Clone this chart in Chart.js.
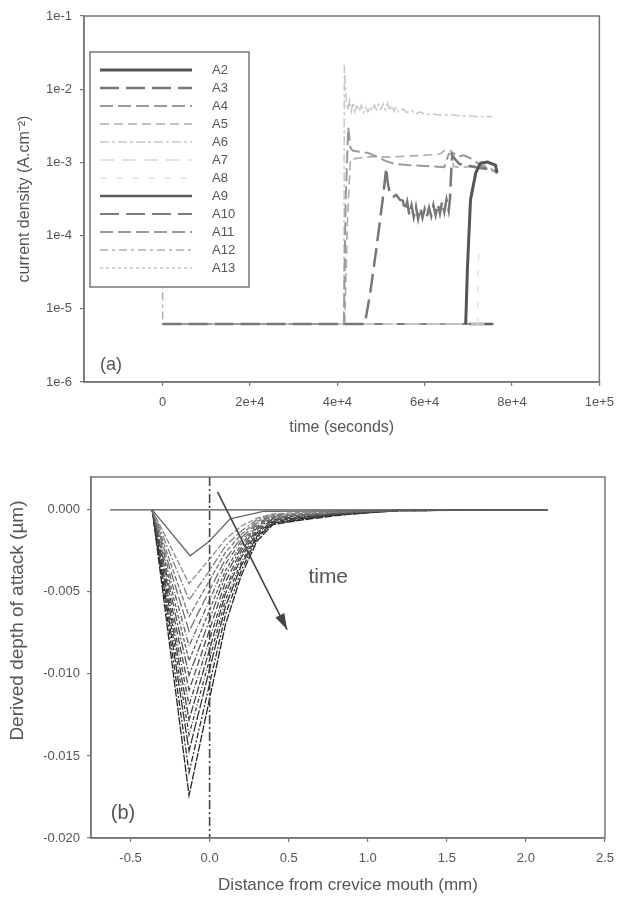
<!DOCTYPE html>
<html>
<head>
<meta charset="utf-8">
<script src="https://cdn.jsdelivr.net/npm/chart.js@4"></script>
<style>
  html, body { margin: 0; padding: 0; background: #fff; }
  #wrap { position: relative; width: 623px; height: 902px; }
  canvas { position: absolute; left: 0; }
  #chartA { top: 0; }
  #chartB { top: 445px; }
</style>
</head>
<body>
<div id="wrap">
  <canvas id="chartA" width="623" height="445"></canvas>
  <canvas id="chartB" width="623" height="457"></canvas>
</div>
<script>
// ---------- panel (a): current density vs time ----------
const b = 6.2e-6; // passive baseline

const timeA2 = [69400, 69800, 70500, 71700, 72800, 74400, 76200, 76600];
const densA2 = [b, 3.7e-5, 3.1e-4, 7.2e-4, 9.8e-4, 1.01e-3, 9.2e-4, 7.2e-4];

const timeA3 = [0, 46300, 47500, 49000, 50500, 51200, 51500, 52000, 52800, 53500, 54300,
  55000, 55500, 56000, 56500, 57000, 57500, 58000, 58500, 59000, 59500, 60000,
  60500, 61000, 61500, 62000, 62500, 63000, 63500, 64000, 64500, 65000, 65500,
  65800, 66000, 66300, 67000, 68000, 70000, 72000, 74000, 76000];
const densA3 = [b, b, 1.6e-5, 7e-5, 3.5e-4, 8.4e-4, 5.5e-4, 3.8e-4, 3.4e-4, 3.6e-4, 3.1e-4,
  3.0e-4, 2.2e-4, 2.9e-4, 1.9e-4, 2.6e-4, 1.8e-4, 2.5e-4, 1.7e-4, 2.4e-4, 1.75e-4, 2.3e-4,
  1.8e-4, 2.4e-4, 1.85e-4, 2.6e-4, 1.9e-4, 2.7e-4, 2.0e-4, 2.9e-4, 2.1e-4, 3.1e-4, 2.2e-4,
  3.2e-4, 6e-4, 1.25e-3, 1.1e-3, 9.5e-4, 9e-4, 8.5e-4, 8.2e-4, 7.6e-4];

const timeA4 = [0, 41500, 41900, 42500, 43000, 43500, 45000, 47000, 49000, 51000, 53000, 56000,
  59000, 62000, 64500, 65500, 66500, 67500, 69000, 71000, 73000, 75000, 76500];
const densA4 = [b, b, 3e-4, 3.0e-3, 1.6e-3, 1.45e-3, 1.4e-3, 1.35e-3, 1.2e-3, 1.05e-3, 9.6e-4, 9.2e-4,
  9.0e-4, 8.8e-4, 8.6e-4, 1.3e-3, 1.35e-3, 1.2e-3, 1.25e-3, 1.1e-3, 9e-4, 8e-4, 7.4e-4];

const timeA5 = [0, 41700, 42300, 43000, 45000, 48000, 52000, 56000, 60000, 63500, 64500, 65500,
  66300, 66600, 68500, 70500, 73000, 75000, 76800];
const densA5 = [b, b, 1.5e-4, 1.1e-3, 1.15e-3, 1.2e-3, 1.18e-3, 1.22e-3, 1.25e-3, 1.3e-3, 1.45e-3, 1.5e-3,
  1.4e-3, 8.8e-4, 8.5e-4, 8.8e-4, 9.5e-4, 8.5e-4, 6.8e-4];

const timeA6 = [0, 41500, 41600, 42000, 42400, 42800, 43200, 43600, 44000,
  44500, 45000, 45500, 46000, 46500, 47000, 47500, 48000, 48500, 49000,
  49500, 50000, 50500, 51000, 51500, 52000, 52500, 53000, 53500, 54000,
  55000, 56000, 57000, 58000, 59000, 60000,
  62000, 64000, 66000, 68000, 70000, 72000, 74000, 75500];
const densA6 = [b, b, 0.0214, 7.5e-3, 5.2e-3, 7.0e-3, 5.0e-3, 6.6e-3, 4.9e-3,
  6.2e-3, 5.0e-3, 6.0e-3, 4.8e-3, 5.6e-3, 4.9e-3, 5.8e-3, 5.1e-3, 6.0e-3, 5.2e-3,
  6.2e-3, 5.3e-3, 6.3e-3, 5.2e-3, 6.4e-3, 5.1e-3, 6.0e-3, 5.0e-3, 5.7e-3, 4.9e-3,
  5.4e-3, 4.8e-3, 5.1e-3, 4.6e-3, 4.9e-3, 4.5e-3,
  4.6e-3, 4.4e-3, 4.5e-3, 4.3e-3, 4.35e-3, 4.2e-3, 4.25e-3, 4.2e-3];

const timeA7 = [0, 75700];
const densA7 = [b, b];
const timeA8 = [72100, 72250, 72400];
const densA8 = [b, 4e-5, 6.3e-5];
const timeA9 = [70200, 75700];
const densA9 = [b, b];
const timeA10 = [0, 75700];
const densA10 = [b, b];
const timeA11 = [0, 75700];
const densA11 = [b, b];
const timeA12 = [0, 0, 75700];
const densA12 = [1e-4, b, b];
const timeA13 = [0, 72000];
const densA13 = [b, b];

const timeTicks = [0, 20000, 40000, 60000, 80000, 100000];
const timeTickLabels = ['0', '2e+4', '4e+4', '6e+4', '8e+4', '1e+5'];
const densTicks = [1e-6, 1e-5, 1e-4, 1e-3, 1e-2, 1e-1];
const densTickLabels = ['1e-6', '1e-5', '1e-4', '1e-3', '1e-2', '1e-1'];

// ---------- panel (b): derived depth of attack vs distance ----------
const distMm = [-0.363, -0.13, 0.0, 0.1, 0.2, 0.3, 0.4, 0.6, 0.8, 1.0, 1.2, 2.14];
const depth01 = [0, -0.0045, -0.0030, -0.0018, -0.0010, -0.0005, -0.00025, -0.00015, -0.0001, -0.00005, -0.00002, 0];
const depth02 = [0, -0.0055, -0.0037, -0.0022, -0.0013, -0.0006, -0.0003, -0.0002, -0.00012, -0.00006, -0.00002, 0];
const depth03 = [0, -0.0065, -0.0043, -0.0026, -0.0015, -0.0007, -0.00035, -0.00024, -0.00014, -0.00007, -0.00002, 0];
const depth04 = [0, -0.0074, -0.0049, -0.0030, -0.0017, -0.0008, -0.0004, -0.00027, -0.00016, -0.00008, -0.00003, 0];
const depth05 = [0, -0.0083, -0.0055, -0.0033, -0.0019, -0.0009, -0.00045, -0.0003, -0.00018, -0.00009, -0.00003, 0];
const depth06 = [0, -0.0092, -0.0061, -0.0037, -0.0021, -0.0010, -0.0005, -0.00033, -0.0002, -0.0001, -0.00003, 0];
const depth07 = [0, -0.0101, -0.0067, -0.0040, -0.0023, -0.0011, -0.00055, -0.00036, -0.00021, -0.00011, -0.00003, 0];
const depth08 = [0, -0.0110, -0.0073, -0.0044, -0.0025, -0.0012, -0.0006, -0.0004, -0.00023, -0.00012, -0.00004, 0];
const depth09 = [0, -0.0119, -0.0079, -0.0048, -0.0027, -0.0013, -0.00065, -0.00042, -0.00025, -0.00013, -0.00004, 0];
const depth10 = [0, -0.0128, -0.0085, -0.0051, -0.0029, -0.0014, -0.0007, -0.00045, -0.00027, -0.00014, -0.00004, 0];
const depth11 = [0, -0.0137, -0.0091, -0.0055, -0.0032, -0.0015, -0.00075, -0.00048, -0.00029, -0.00015, -0.00004, 0];
const depth12 = [0, -0.0147, -0.0097, -0.0059, -0.0034, -0.0016, -0.0008, -0.00052, -0.0003, -0.00016, -0.00005, 0];
const depth13 = [0, -0.0160, -0.0106, -0.0064, -0.0037, -0.0017, -0.00085, -0.00056, -0.00032, -0.00017, -0.00005, 0];
const depth14 = [0, -0.0174, -0.0115, -0.0070, -0.0040, -0.0019, -0.0009, -0.0006, -0.00035, -0.00018, -0.00005, 0];

const distShallow = [-0.363, -0.123, 0.0, 0.13, 0.34, 2.14];
const depthShallow = [0, -0.0028, -0.0019, -0.00055, -0.0001, 0];
const distInitial = [-0.63, 2.14];
const depthInitial = [0, 0];

const mouthX = [0, 0];
const mouthY = [0.002, -0.02];
const arrowX = [0.05, 0.49];
const arrowY = [0.0011, -0.0073];

const distTicks = [-0.5, 0, 0.5, 1, 1.5, 2, 2.5];
const distTickLabels = ['-0.5', '0.0', '0.5', '1.0', '1.5', '2.0', '2.5'];
const depthTicks = [0, -0.005, -0.01, -0.015, -0.02];
const depthTickLabels = ['0.000', '-0.005', '-0.010', '-0.015', '-0.020'];

// ---------- styling ----------
Chart.defaults.font.family = '"Liberation Sans", Arial, sans-serif';
Chart.defaults.color = '#555';

const styleA = {
  A2:  { color: '#555', width: 3,   dash: [] },
  A3:  { color: '#777', width: 2.5, dash: [19, 7] },
  A4:  { color: '#999', width: 2,   dash: [13, 5] },
  A5:  { color: '#aaa', width: 1.6, dash: [9, 5] },
  A6:  { color: '#c8c8c8', width: 1.5, dash: [9, 3, 3, 3] },
  A7:  { color: '#dadada', width: 1.5, dash: [14, 8] },
  A8:  { color: '#e2e2e2', width: 1.5, dash: [6, 10] },
  A9:  { color: '#5a5a5a', width: 2.5, dash: [] },
  A10: { color: '#7c7c7c', width: 2.2, dash: [19, 7] },
  A11: { color: '#9a9a9a', width: 1.8, dash: [13, 5] },
  A12: { color: '#b0b0b0', width: 1.5, dash: [8, 4, 3, 4] },
  A13: { color: '#c4c4c4', width: 1.5, dash: [3, 3] }
};

function pts(xs, ys) {
  return xs.map((x, i) => ({ x: x, y: ys[i] }));
}

function lineSet(label, xs, ys, color, width, dash) {
  return { label: label, data: pts(xs, ys), borderColor: color, borderWidth: width,
    borderDash: dash, pointRadius: 0, tension: 0, fill: false };
}

const seriesA = [
  ['A2', timeA2, densA2], ['A3', timeA3, densA3], ['A4', timeA4, densA4],
  ['A5', timeA5, densA5], ['A6', timeA6, densA6], ['A7', timeA7, densA7],
  ['A8', timeA8, densA8], ['A9', timeA9, densA9], ['A10', timeA10, densA10],
  ['A11', timeA11, densA11], ['A12', timeA12, densA12], ['A13', timeA13, densA13]
];

// full box round the plot
const framePlugin = {
  id: 'frame',
  afterDatasetsDraw(chart) {
    const { ctx, chartArea: a } = chart;
    ctx.save();
    ctx.strokeStyle = '#777';
    ctx.lineWidth = 1.5;
    ctx.strokeRect(a.left, a.top, a.right - a.left, a.bottom - a.top);
    ctx.restore();
  }
};

const panelLabel = {
  id: 'panelLabel',
  afterDraw(chart, args, opts) {
    const { ctx, chartArea: a } = chart;
    ctx.save();
    ctx.font = opts.size + 'px "Liberation Sans", Arial, sans-serif';
    ctx.fillStyle = '#555';
    ctx.textAlign = 'center';
    ctx.textBaseline = 'middle';
    ctx.fillText(opts.text, a.left + opts.dx, a.bottom + opts.dy);
    ctx.restore();
  }
};

// boxed legend in the upper-left corner of panel (a)
const boxLegend = {
  id: 'boxLegend',
  afterDatasetsDraw(chart) {
    const { ctx, chartArea: a } = chart;
    const x0 = a.left + 6, y0 = a.top + 36, w = 159, h = 235;
    ctx.save();
    ctx.fillStyle = '#fff';
    ctx.fillRect(x0, y0, w, h);
    ctx.strokeStyle = '#777';
    ctx.lineWidth = 1.5;
    ctx.strokeRect(x0, y0, w, h);
    ctx.font = '13px "Liberation Sans", Arial, sans-serif';
    ctx.textBaseline = 'middle';
    chart.data.datasets.forEach((ds, i) => {
      const y = y0 + 18 + i * 18;
      ctx.beginPath();
      ctx.setLineDash(ds.borderDash);
      ctx.strokeStyle = ds.borderColor;
      ctx.lineWidth = ds.borderWidth;
      ctx.moveTo(x0 + 10, y);
      ctx.lineTo(x0 + 102, y);
      ctx.stroke();
      ctx.setLineDash([]);
      ctx.fillStyle = '#555';
      ctx.fillText(ds.label, x0 + 122, y);
    });
    ctx.restore();
  }
};

// arrow head + "time" note in panel (b)
const timeArrow = {
  id: 'timeArrow',
  afterDatasetsDraw(chart) {
    const { ctx, scales: { x, y } } = chart;
    const x1 = x.getPixelForValue(arrowX[0]), y1 = y.getPixelForValue(arrowY[0]);
    const x2 = x.getPixelForValue(arrowX[1]), y2 = y.getPixelForValue(arrowY[1]);
    const ang = Math.atan2(y2 - y1, x2 - x1);
    const len = 16, half = 5;
    ctx.save();
    ctx.fillStyle = '#444';
    ctx.beginPath();
    ctx.moveTo(x2, y2);
    ctx.lineTo(x2 - len * Math.cos(ang) + half * Math.sin(ang), y2 - len * Math.sin(ang) - half * Math.cos(ang));
    ctx.lineTo(x2 - len * Math.cos(ang) - half * Math.sin(ang), y2 - len * Math.sin(ang) + half * Math.cos(ang));
    ctx.closePath();
    ctx.fill();
    ctx.font = '21px "Liberation Sans", Arial, sans-serif';
    ctx.fillStyle = '#555';
    ctx.textAlign = 'center';
    ctx.textBaseline = 'middle';
    ctx.fillText('time', x.getPixelForValue(0.75), y.getPixelForValue(-0.0041));
    ctx.restore();
  }
};

function axisStyle(extra) {
  return Object.assign({
    grid: { display: true, drawOnChartArea: false, drawTicks: true, tickLength: 4, color: '#777', lineWidth: 1.2 },
    border: { display: true, color: '#777', width: 1.5 },
    ticks: { autoSkip: false, maxRotation: 0, font: { size: 13 }, color: '#555', padding: 8 }
  }, extra);
}

// ---------- chart (a) ----------
const chartA = new Chart(document.getElementById('chartA'), {
  type: 'line',
  data: {
    datasets: seriesA.map(s => {
      const st = styleA[s[0]];
      return lineSet(s[0], s[1], s[2], st.color, st.width, st.dash);
    })
  },
  options: {
    responsive: false,
    animation: false,
    devicePixelRatio: 1,
    layout: { padding: { left: 0, right: 18, top: 16, bottom: 0 } },
    plugins: {
      legend: { display: false },
      tooltip: { enabled: false },
      panelLabel: { text: '(a)', dx: 27, dy: -17, size: 18 }
    },
    scales: {
      x: axisStyle({
        type: 'linear', min: -18000, max: 100000,
        afterBuildTicks: ax => { ax.ticks = timeTicks.map(v => ({ value: v })); },
        afterFit: ax => { ax.height = 63; },
        ticks: { autoSkip: false, maxRotation: 0, font: { size: 13 }, color: '#555', padding: 9,
          callback: (v, i) => timeTickLabels[i] },
        title: { display: true, text: 'time (seconds)', font: { size: 16 }, color: '#555',
          padding: { top: 0, bottom: 8 } }
      }),
      y: axisStyle({
        type: 'logarithmic', min: 1e-6, max: 1e-1,
        afterBuildTicks: ax => { ax.ticks = densTicks.map(v => ({ value: v })); },
        afterFit: ax => { ax.width = 84; },
        ticks: { autoSkip: false, font: { size: 13 }, color: '#555', padding: 8,
          callback: (v, i) => densTickLabels[i] },
        title: { display: true, text: 'current density (A.cm\u207B\u00B2)', font: { size: 16 }, color: '#555',
          padding: { top: 15, bottom: 0 } }
      })
    }
  },
  plugins: [framePlugin, boxLegend, panelLabel]
});

// ---------- chart (b) ----------
const profileDepths = [depth01, depth02, depth03, depth04, depth05, depth06, depth07,
  depth08, depth09, depth10, depth11, depth12, depth13, depth14];
const profileColors = ['#8a8a8a', '#808080', '#777', '#6e6e6e', '#666', '#5e5e5e', '#565656',
  '#4e4e4e', '#464646', '#404040', '#3a3a3a', '#333', '#2c2c2c', '#262626'];
const profileDashes = [[6, 2], [8, 2, 2, 2], [5, 2], [10, 3], [6, 2, 1, 2], [4, 2], [9, 2, 2, 2],
  [7, 3], [5, 2, 1, 2], [8, 2], [4, 2, 1, 2], [10, 2], [6, 2, 2, 2], [8, 1.5]];

const datasetsB = [
  lineSet('mouth', mouthX, mouthY, '#444', 1.6, [9, 3, 2, 3]),
  lineSet('arrow', arrowX, arrowY, '#444', 1.6, []),
  lineSet('initial', distInitial, depthInitial, '#555', 1.3, []),
  lineSet('first', distShallow, depthShallow, '#666', 1.3, [])
].concat(profileDepths.map((d, i) =>
  lineSet('t' + (i + 1), distMm, d, profileColors[i], 1.3, profileDashes[i])));

const chartB = new Chart(document.getElementById('chartB'), {
  type: 'line',
  data: { datasets: datasetsB },
  options: {
    responsive: false,
    animation: false,
    devicePixelRatio: 1,
    layout: { padding: { left: 0, right: 17, top: 32, bottom: 0 } },
    plugins: {
      legend: { display: false },
      tooltip: { enabled: false },
      panelLabel: { text: '(b)', dx: 32, dy: -25, size: 20 }
    },
    scales: {
      x: axisStyle({
        type: 'linear', min: -0.75, max: 2.5,
        afterBuildTicks: ax => { ax.ticks = distTicks.map(v => ({ value: v })); },
        afterFit: ax => { ax.height = 64; },
        ticks: { autoSkip: false, maxRotation: 0, font: { size: 13 }, color: '#555', padding: 9,
          callback: (v, i) => distTickLabels[i] },
        title: { display: true, text: 'Distance from crevice mouth (mm)', font: { size: 17 }, color: '#555',
          padding: { top: 0, bottom: 6 } }
      }),
      y: axisStyle({
        type: 'linear', min: -0.02, max: 0.002,
        afterBuildTicks: ax => { ax.ticks = depthTicks.map(v => ({ value: v })); },
        afterFit: ax => { ax.width = 91; },
        ticks: { autoSkip: false, font: { size: 13 }, color: '#555', padding: 7,
          callback: (v, i) => depthTickLabels[i] },
        // leading spaces lift the rotated title towards the top, as in the original
        title: { display: true, text: '              Derived depth of attack (\u00B5m)', font: { size: 19 }, color: '#555',
          padding: { top: 6, bottom: 0 } }
      })
    }
  },
  plugins: [framePlugin, timeArrow, panelLabel]
});
</script>
</body>
</html>
